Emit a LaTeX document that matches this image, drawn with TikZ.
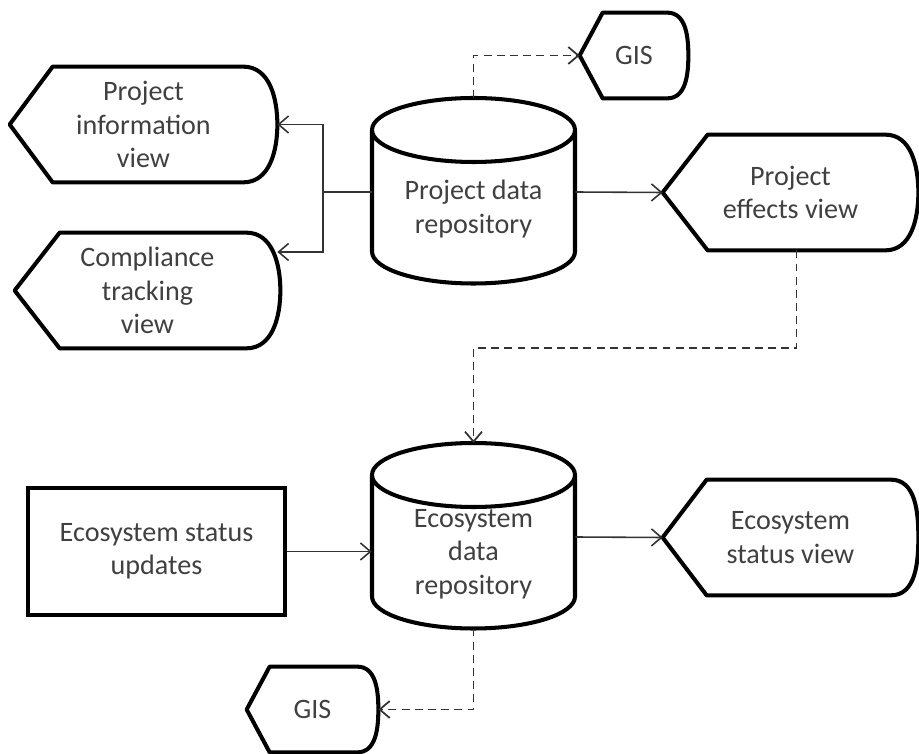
\documentclass[tikz,border=0pt]{standalone}
\usepackage{fontspec}
\setmainfont{Carlito}
\usepackage{tikz}
\usetikzlibrary{arrows.meta}

\begin{document}
\begin{tikzpicture}[
        every node/.style={align=center, text=black!75, font=\fontsize{16}{19}\selectfont},
        display/.style={minimum height=2.3cm, inner sep=0pt},
        smalldisplay/.style={minimum height=1.7cm, inner sep=0pt},
        repo/.style={minimum width=4.06cm, inner sep=0pt},
        source/.style={draw=black, line width=2.3pt, minimum width=5.14cm, minimum height=2.54cm},
        outline/.style={black, line width=2.3pt, line join=round},
        flow/.style={-{Straight Barb[length=2mm, width=3.4mm]}, black!80, line width=0.9pt},
        dflow/.style={flow, line width=1pt, dash pattern=on 4.5pt off 3pt}
    ]
        \useasboundingbox (0,0) rectangle (18.38,15.06);

        \node[display, minimum width=5.34cm] (piv) at (2.87,12.57) {Project\\information\\view};
        \node[display, minimum width=5.30cm] (ctv) at (2.95,9.25) {Compliance\\tracking\\view};
        \node[repo] (pdr) at (9.47,10.88) {Project data\\repository};
        \node[smalldisplay, minimum width=2.16cm] (gisa) at (12.68,13.95) {GIS};
        \node[display, minimum width=5.10cm] (pev) at (15.81,11.21) {Project\\effects view};
        \node[source] (esu) at (3.13,4.03) {Ecosystem status\\updates};
        \node[repo] (edr) at (9.47,3.98) {Ecosystem\\data\\repository};
        \node[display, minimum width=5.10cm] (esv) at (15.81,4.31) {Ecosystem\\status view};
        \node[smalldisplay, minimum width=2.62cm] (gisb) at (6.25,0.87) {GIS};

        % display shapes
        \foreach \n/\tp/\rd in {piv/0.86/0.68, ctv/0.9/0.68, pev/0.9/0.66, esv/0.88/0.55, gisa/0.46/0.42, gisb/0.46/0.42}
            \draw[outline] (\n.west) -- ([xshift=\tp cm]\n.north west) -- ([xshift=-\rd cm]\n.north east)
                to[out=0, in=90] (\n.east) to[out=-90, in=0] ([xshift=-\rd cm]\n.south east)
                -- ([xshift=\tp cm]\n.south west) -- cycle;

        % repositories
        \foreach \n in {pdr, edr}
            \draw[outline] ([shift={(-2.03,1.58)}]\n.center) -- ([shift={(-2.03,-0.85)}]\n.center)
                arc[start angle=180, end angle=360, x radius=2.03, y radius=0.64]
                -- ([shift={(2.03,1.58)}]\n.center)
                ([shift={(0,1.58)}]\n.center) ellipse[x radius=2.03, y radius=0.64];

        \coordinate (split) at (6.46,11.22);
        \draw[flow] ([yshift=0.34cm]pdr.west) -- (split) |- (piv.east);
        \draw[flow] (split) |- ([shift={(-0.06,0.77)}]ctv.east);
        \draw[flow] ([yshift=0.34cm]pdr.east) -- (pev.west);
        \draw[dflow] ([yshift=2.22cm]pdr.center) |- (gisa.west);
        \draw[dflow] ([xshift=0.12cm]pev.south) -- ++(0,-1.96) -| ([yshift=2.22cm]edr.center);
        \draw[flow] (esu.east) -- (esu.east -| edr.west);
        \draw[flow] ([yshift=0.34cm]edr.east) -- (esv.west);
        \draw[dflow] ([yshift=-1.49cm]edr.center) |- (gisb.east);
    \end{tikzpicture}
\end{document}
